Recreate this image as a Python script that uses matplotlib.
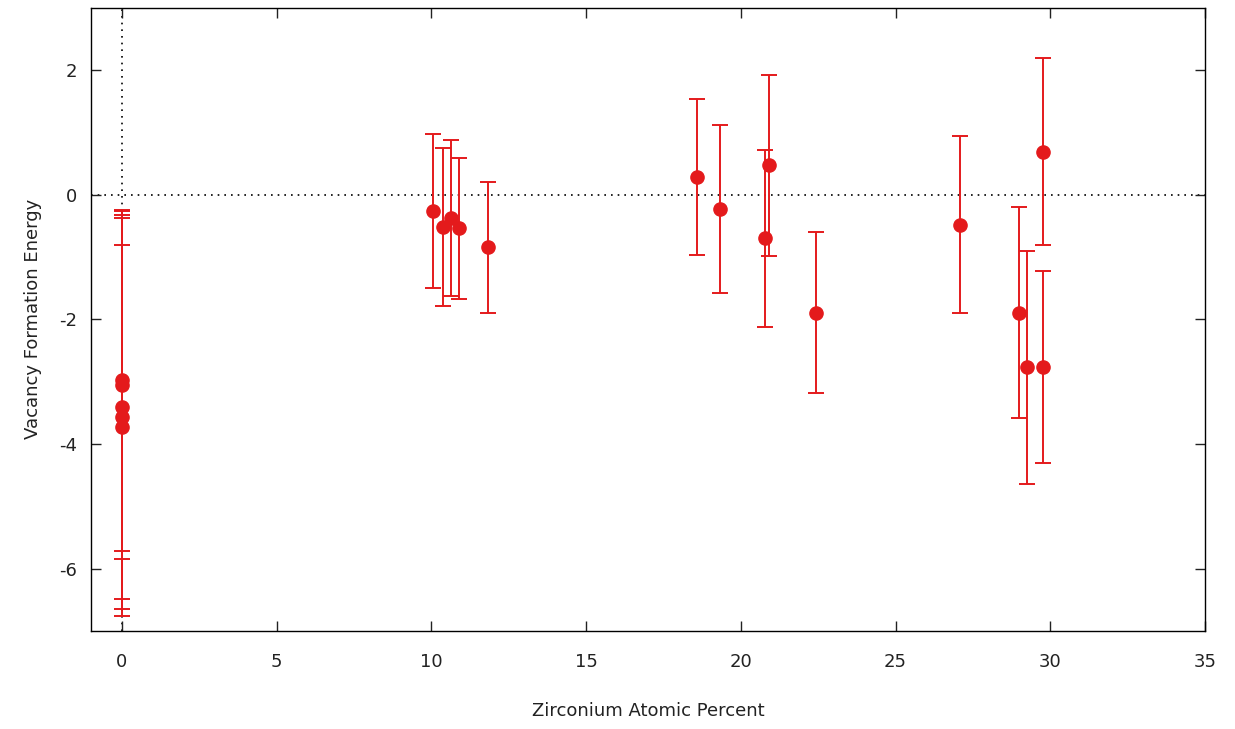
import matplotlib.pyplot as plt

plt.rcParams["axes.unicode_minus"] = False

# Zr atomic percent, vacancy formation energy, symmetric error
zr_percent = [0.0, 0.0, 0.0, 0.0, 0.0,
              10.06, 10.39, 10.63, 10.90, 11.84,
              18.57, 19.33, 20.79, 20.90, 22.43,
              27.08, 28.98, 29.24, 29.78, 29.78]
energy = [-2.98, -3.05, -3.40, -3.57, -3.72,
          -0.26, -0.52, -0.38, -0.54, -0.84,
          0.28, -0.23, -0.70, 0.47, -1.89,
          -0.48, -1.89, -2.77, 0.69, -2.77]
energy_err = [2.73, 2.79, 3.08, 3.19, 2.92,
              1.24, 1.27, 1.25, 1.13, 1.05,
              1.25, 1.35, 1.42, 1.45, 1.29,
              1.42, 1.70, 1.87, 1.50, 1.54]

x_ticks = [0, 5, 10, 15, 20, 25, 30, 35]
y_ticks = [-6, -4, -2, 0, 2]

RED = "#e41a1c"

fig = plt.figure(figsize=(12.35, 7.29), dpi=100)
ax = fig.add_axes([0.0737, 0.1344, 0.902, 0.855])

ax.axhline(0, color="black", linestyle=(0, (1, 3)), linewidth=1.2, zorder=1)
ax.axvline(0, color="black", linestyle=(0, (1, 3)), linewidth=1.2, zorder=1)

ax.errorbar(zr_percent, energy, yerr=energy_err, fmt="o", color=RED,
            ecolor=RED, markersize=9.5, elinewidth=1.4, capsize=6,
            capthick=1.4, zorder=3)

ax.set_xlim(-1, 35)
ax.set_ylim(-7, 3)
ax.set_xticks(x_ticks)
ax.set_yticks(y_ticks)
ax.tick_params(direction="in", top=True, right=True, length=7, width=1,
               labelsize=13, colors="#222222")
ax.tick_params(axis="x", pad=16)
ax.tick_params(axis="y", pad=10)
for spine in ax.spines.values():
    spine.set_linewidth(1)

ax.set_xlabel("Zirconium Atomic Percent", fontsize=13, labelpad=22, color="#222222")
ax.set_ylabel("Vacancy Formation Energy", fontsize=13, labelpad=12, color="#222222")

fig.savefig("out.png", dpi=100)
